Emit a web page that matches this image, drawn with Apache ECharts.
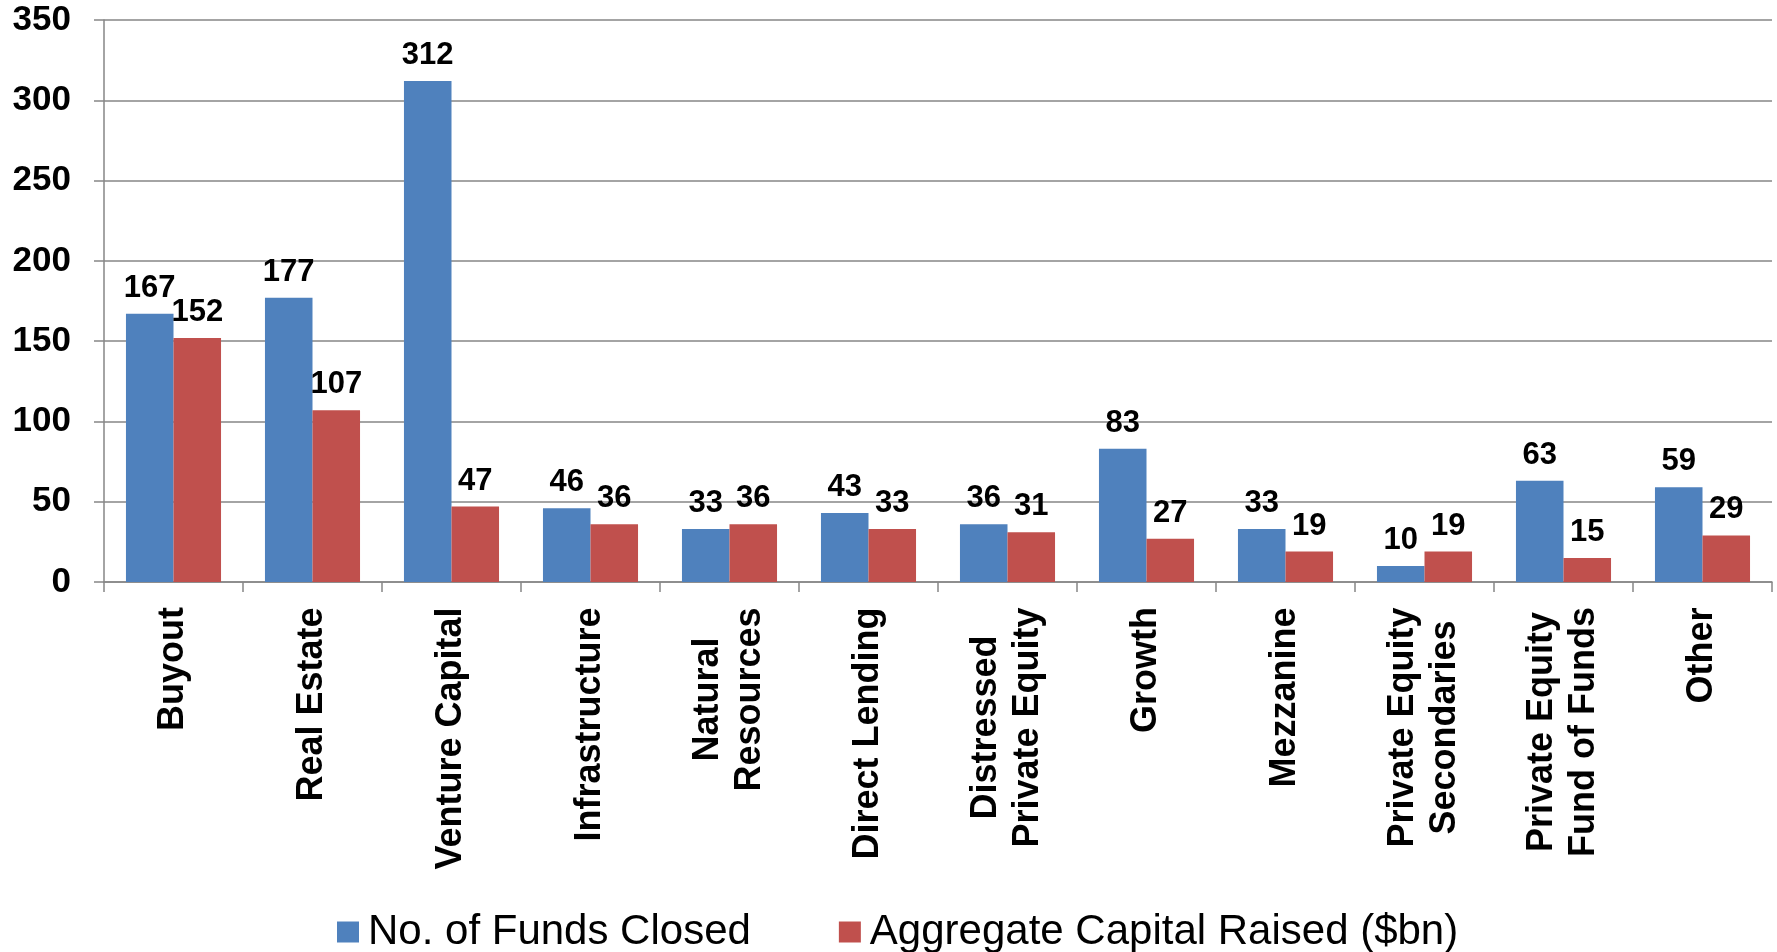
<!DOCTYPE html>
<html>
<head>
<meta charset="utf-8">
<script src="https://cdn.jsdelivr.net/npm/echarts@6/dist/echarts.min.js"></script>
<style>
  html, body { margin: 0; padding: 0; background: #fff; }
  #chart { width: 1777px; height: 952px; }
</style>
</head>
<body>
<div id="chart"></div>
<script>
// 分类名称
const categories = ['Buyout', 'Real Estate', 'Venture Capital', 'Infrastructure', 'Natural\nResources',
  'Direct Lending', 'Distressed\nPrivate Equity', 'Growth', 'Mezzanine', 'Private Equity\nSecondaries',
  'Private Equity\nFund of Funds', 'Other'];
const fundsClosed = [167, 177, 312, 46, 33, 43, 36, 83, 33, 10, 63, 59];
const capitalRaised = [152, 107, 47, 36, 36, 33, 31, 27, 19, 19, 15, 29];
const yTicks = [0, 50, 100, 150, 200, 250, 300, 350];

const labelFont = 'bold 36px "Liberation Sans", Arial, sans-serif';

// 多行标签居中：给每个分类一个固定宽度的 rich 样式
const ctx = document.createElement('canvas').getContext('2d');
ctx.font = labelFont;
const rich = {};
categories.forEach((c, i) => {
  const w = Math.max(...c.split('\n').map(s => ctx.measureText(s).width));
  rich['c' + i] = {
    width: Math.ceil(w) + 2,
    align: 'center',
    fontSize: 36,
    fontWeight: 'bold',
    fontFamily: '"Liberation Sans", Arial, sans-serif',
    color: '#000',
    lineHeight: 42
  };
});

const chart = echarts.init(document.getElementById('chart'));
chart.setOption({
  animation: false,
  color: ['#4F81BD', '#C0504D'],
  grid: { left: 104, right: 5, top: 20, bottom: 370, containLabel: false },
  legend: {
    left: 337,
    top: 911,
    padding: 0,
    itemWidth: 22,
    itemHeight: 21,
    itemGap: 88,
    icon: 'rect',
    textStyle: {
      fontSize: 42,
      fontFamily: '"Liberation Sans", Arial, sans-serif',
      color: '#000',
      padding: [0, 0, 0, 4]
    }
  },
  xAxis: {
    type: 'category',
    data: categories,
    axisLine: { lineStyle: { color: '#868686', width: 1.5 } },
    axisTick: { show: true, length: 10, lineStyle: { color: '#868686', width: 1.5 } },
    axisLabel: {
      interval: 0,
      rotate: 90,
      margin: 24,
      fontSize: 36,
      fontWeight: 'bold',
      fontFamily: '"Liberation Sans", Arial, sans-serif',
      color: '#000',
      lineHeight: 42,
      rich: rich,
      formatter: (val, idx) => val.split('\n').map(s => '{c' + idx + '|' + s + '}').join('\n')
    }
  },
  yAxis: {
    type: 'value',
    min: yTicks[0],
    max: yTicks[yTicks.length - 1],
    interval: 50,
    axisLine: { show: true, lineStyle: { color: '#868686', width: 1.5 } },
    axisTick: { show: true, length: 10, lineStyle: { color: '#868686', width: 1.5 } },
    splitLine: { lineStyle: { color: '#868686', width: 1.5 } },
    axisLabel: {
      margin: 33,
      fontSize: 35,
      fontWeight: 'bold',
      fontFamily: '"Liberation Sans", Arial, sans-serif',
      color: '#000'
    }
  },
  series: [
    {
      name: 'No. of Funds Closed',
      type: 'bar',
      data: fundsClosed,
      barGap: '0%',
      barCategoryGap: '31.6%',
      label: {
        show: true,
        position: 'top',
        distance: 10,
        fontSize: 31,
        fontWeight: 'bold',
        fontFamily: '"Liberation Sans", Arial, sans-serif',
        color: '#000'
      }
    },
    {
      name: 'Aggregate Capital Raised ($bn)',
      type: 'bar',
      data: capitalRaised,
      barGap: '0%',
      barCategoryGap: '31.6%',
      label: {
        show: true,
        position: 'top',
        distance: 10,
        fontSize: 31,
        fontWeight: 'bold',
        fontFamily: '"Liberation Sans", Arial, sans-serif',
        color: '#000'
      }
    }
  ]
});
</script>
</body>
</html>
